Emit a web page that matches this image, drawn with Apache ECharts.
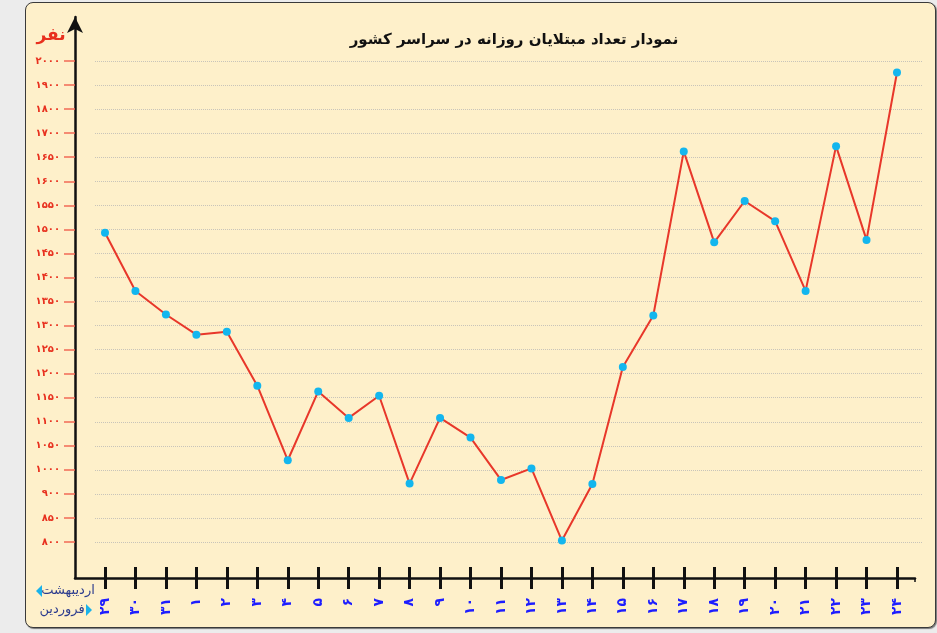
<!DOCTYPE html>
<html><head><meta charset="utf-8">
<script src="https://cdn.jsdelivr.net/npm/echarts@6/dist/echarts.min.js"></script>
<style>
html,body{margin:0;padding:0;background:#ececec;}
#wrap{position:relative;width:937px;height:633px;overflow:hidden;background:#ececec;}
#panel{position:absolute;left:25px;top:2px;width:909px;height:624px;background:#fef0ca;border:1px solid #3a3a3a;border-radius:8px;box-shadow:1px 1px 1px #777;}
#chart{position:absolute;left:0;top:0;width:937px;height:633px;}
</style></head><body>
<div id="wrap"><div id="panel"></div><div id="chart"></div></div>
<script>
const titleText = 'نمودار تعداد مبتلایان روزانه در سراسر کشور';
const unitText = 'نفر';
const dayLabels = ['۲۹','۳۰','۳۱','۱','۲','۳','۴','۵','۶','۷','۸','۹','۱۰','۱۱','۱۲','۱۳','۱۴','۱۵','۱۶','۱۷','۱۸','۱۹','۲۰','۲۱','۲۲','۲۳','۲۴'];
const values = [1493,1372,1323,1281,1287,1175,1020,1163,1108,1154,943,1108,1067,958,1003,803,941,1214,1321,1662,1473,1559,1517,1372,1673,1478,1952];
const yTickValues = [800,850,900,1000,1050,1100,1150,1200,1250,1300,1350,1400,1450,1500,1550,1600,1650,1700,1800,1900,2000];
const yTickLabels = ['۸۰۰','۸۵۰','۹۰۰','۱۰۰۰','۱۰۵۰','۱۱۰۰','۱۱۵۰','۱۲۰۰','۱۲۵۰','۱۳۰۰','۱۳۵۰','۱۴۰۰','۱۴۵۰','۱۵۰۰','۱۵۵۰','۱۶۰۰','۱۶۵۰','۱۷۰۰','۱۸۰۰','۱۹۰۰','۲۰۰۰'];
const monthLabels = ['اردیبهشت','فروردین'];

// the y scale is drawn with evenly spaced ticks: map a value to its tick slot
function toSlot(v){
  for(let i=0;i<yTickValues.length-1;i++){
    if(v<=yTickValues[i+1]) return i+(v-yTickValues[i])/(yTickValues[i+1]-yTickValues[i]);
  }
  return yTickValues.length-1;
}
const FONT = '"DejaVu Sans", "Noto Sans", sans-serif';
const idx = dayLabels.map((d,i)=>i);
const X_MIN = -0.328, X_MAX = 26.854;
const HIDDEN = {axisLine:{show:false},axisTick:{show:false},axisLabel:{show:false},splitLine:{show:false}};

const chart = echarts.init(document.getElementById('chart'), null, {renderer:'canvas'});
chart.setOption({
  animation:false,
  backgroundColor:'transparent',
  title:{text:titleText,left:509,top:28,textAlign:'center',
    textStyle:{fontFamily:FONT,fontSize:15,fontWeight:'bold',color:'#111'}},
  grid:[
    {left:95,right:14,top:61,bottom:91},   // data + gridlines
    {left:75,right:22,top:17,bottom:55},   // axis lines
    {left:95,right:14,top:61,bottom:66},   // day ticks and labels
    {left:75,right:14,top:61,bottom:91}    // value ticks and labels
  ],
  xAxis:[
    Object.assign({type:'value',gridIndex:0,min:X_MIN,max:X_MAX},HIDDEN),
    {type:'value',gridIndex:1,min:0,max:1,
     axisLine:{show:true,onZero:false,lineStyle:{color:'#111',width:2.5}},
     axisTick:{show:true,customValues:[1],length:4,lineStyle:{color:'#111',width:1.5}},
     axisLabel:{show:false},splitLine:{show:false}},
    {type:'value',gridIndex:2,min:X_MIN,max:X_MAX,position:'bottom',
     axisLine:{show:false,onZero:false},
     axisTick:{show:true,customValues:idx,length:22,lineStyle:{color:'#111',width:3}},
     axisLabel:{customValues:idx,formatter:v=>dayLabels[Math.round(v)],rotate:90,margin:31,
       color:'#1d1dff',fontWeight:'bold',fontSize:14,fontFamily:FONT},
     splitLine:{show:false}},
    Object.assign({type:'value',gridIndex:3,min:0,max:1},HIDDEN)
  ],
  yAxis:[
    {type:'value',gridIndex:0,min:0,max:20,interval:1,
     axisLine:{show:false},axisTick:{show:false},axisLabel:{show:false},
     splitLine:{show:true,lineStyle:{color:'#c8c4ba',type:'dotted',width:1}}},
    {type:'value',gridIndex:1,min:0,max:1,
     axisLine:{show:true,onZero:false,symbol:['none','arrow'],symbolSize:[12,16],lineStyle:{color:'#111',width:2.5}},
     axisTick:{show:false},axisLabel:{show:false},splitLine:{show:false}},
    Object.assign({type:'value',gridIndex:2,min:0,max:1},HIDDEN),
    {type:'value',gridIndex:3,min:0,max:20,interval:1,position:'left',
     axisLine:{show:false,onZero:false},
     axisTick:{show:true,length:11,lineStyle:{color:'#f26a55',width:1.5}},
     axisLabel:{formatter:v=>yTickLabels[v],color:'#e8301e',fontWeight:'bold',fontSize:10,margin:15,fontFamily:FONT},
     splitLine:{show:false}}
  ],
  graphic:[
    {type:'text',x:51,y:36,style:{text:unitText,fill:'#e8301e',font:'bold 17px '+FONT,align:'center',verticalAlign:'middle'}},
    {type:'text',x:68,y:591,style:{text:monthLabels[0],fill:'#2c3c8e',font:'13px '+FONT,align:'center',verticalAlign:'middle'}},
    {type:'polygon',shape:{points:[[42,585],[42,597],[36,591]]},style:{fill:'#19b2ea'}},
    {type:'text',x:62,y:610,style:{text:monthLabels[1],fill:'#2c3c8e',font:'13px '+FONT,align:'center',verticalAlign:'middle'}},
    {type:'polygon',shape:{points:[[86,604],[86,616],[92,610]]},style:{fill:'#19b2ea'}}
  ],
  series:[{
    type:'line',xAxisIndex:0,yAxisIndex:0,
    data:values.map((v,i)=>[i,toSlot(v)]),
    lineStyle:{color:'#e8372a',width:2},
    symbol:'circle',symbolSize:8,showSymbol:true,
    itemStyle:{color:'#13b6ee'},
    z:5
  }]
});
</script>
</body></html>
